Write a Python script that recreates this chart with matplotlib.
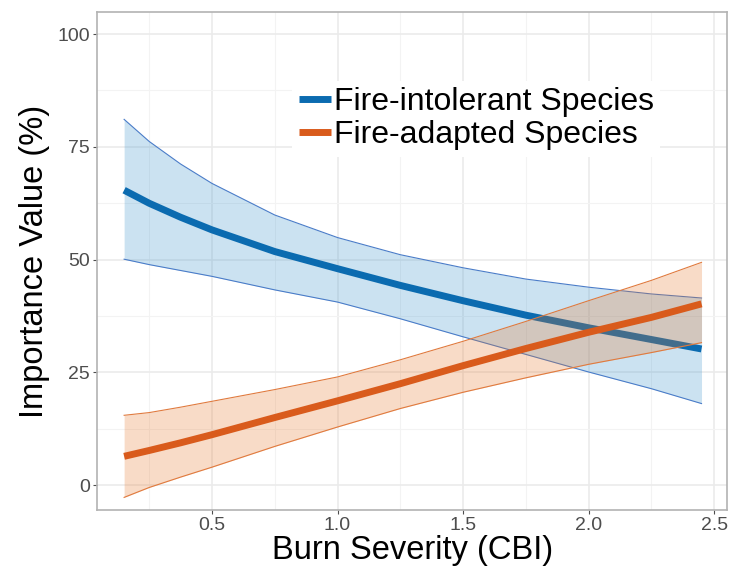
import numpy as np
import matplotlib.pyplot as plt
from matplotlib.ticker import MultipleLocator

# values
cbi = [0.15, 0.25, 0.375, 0.5, 0.75, 1.0, 1.25, 1.5, 1.75, 2.0, 2.25, 2.45]

intol_fit = [65.4, 62.5, 59.4, 56.6, 51.8, 48.0, 44.3, 40.9, 37.7, 34.9, 32.3, 30.2]
intol_hi = [81.1, 76.2, 71.2, 66.9, 59.9, 54.9, 51.1, 48.2, 45.7, 43.9, 42.4, 41.5]
intol_lo = [50.1, 48.9, 47.6, 46.3, 43.3, 40.6, 36.9, 32.9, 29.0, 25.1, 21.4, 18.1]

adapt_fit = [6.4, 7.7, 9.4, 11.2, 15.0, 18.7, 22.5, 26.5, 30.3, 33.9, 37.2, 40.2]
adapt_hi = [15.5, 16.1, 17.3, 18.6, 21.2, 24.0, 27.8, 31.9, 36.3, 40.9, 45.4, 49.4]
adapt_lo = [-2.7, -0.5, 1.8, 4.0, 8.6, 12.9, 17.0, 20.6, 23.8, 26.8, 29.4, 31.6]

x_ticks = [0.5, 1.0, 1.5, 2.0, 2.5]
y_ticks = [0, 25, 50, 75, 100]

plt.rcParams['font.family'] = ['Liberation Sans', 'DejaVu Sans']

fig = plt.figure(figsize=(7.31, 5.66), dpi=100)
ax = fig.add_axes([0.1327, 0.0989, 0.862, 0.8799])

# blue ribbon + line, then orange drawn over it
ax.fill_between(cbi, intol_lo, intol_hi, color='#338fcb', alpha=0.25, lw=0, zorder=2)
ax.plot(cbi, intol_hi, color='#4a7cc8', lw=0.8, zorder=2)
ax.plot(cbi, intol_lo, color='#4a7cc8', lw=0.8, zorder=2)
ax.plot(cbi, intol_fit, color='#0b6bb0', lw=5, solid_capstyle='butt', zorder=3,
        label='Fire-intolerant Species')

ax.fill_between(cbi, adapt_lo, adapt_hi, color='#e77323', alpha=0.25, lw=0, zorder=4)
ax.plot(cbi, adapt_hi, color='#e07a3e', lw=0.8, zorder=4)
ax.plot(cbi, adapt_lo, color='#e07a3e', lw=0.8, zorder=4)
ax.plot(cbi, adapt_fit, color='#d95b1c', lw=5, solid_capstyle='butt', zorder=5,
        label='Fire-adapted Species')

ax.set_xlim(0.042, 2.552)
ax.set_ylim(-5.5, 104.9)
ax.set_xticks(x_ticks)
ax.set_xticklabels([f'{v:.1f}' for v in x_ticks])
ax.set_yticks(y_ticks)
ax.xaxis.set_minor_locator(MultipleLocator(0.25))
ax.yaxis.set_minor_locator(MultipleLocator(12.5))

ax.grid(which='major', color='#ebebeb', lw=1.2, zorder=0)
ax.grid(which='minor', color='#f3f3f3', lw=0.8, zorder=0)
ax.set_axisbelow(True)

for s in ax.spines.values():
    s.set_color('#b3b3b3')
    s.set_linewidth(1.2)

ax.tick_params(axis='both', which='major', labelsize=14, labelcolor='#4d4d4d',
               color='#4d4d4d', length=3, width=0.8, pad=2)
ax.tick_params(which='minor', length=0)

ax.set_xlabel('Burn Severity (CBI)', fontsize=23.5, labelpad=1)
ax.set_ylabel('Importance Value (%)', fontsize=23.5, labelpad=5)

leg = ax.legend(loc='upper left', bbox_to_anchor=(0.31, 0.862), fontsize=23,
                frameon=True, facecolor='white', edgecolor='none', framealpha=1,
                handlelength=1.0, handletextpad=0.1, labelspacing=0.1,
                borderpad=0.2, borderaxespad=0)
for h in leg.get_lines():
    h.set_linewidth(5)
leg.set_zorder(6)

fig.savefig('out.png', dpi=100)
